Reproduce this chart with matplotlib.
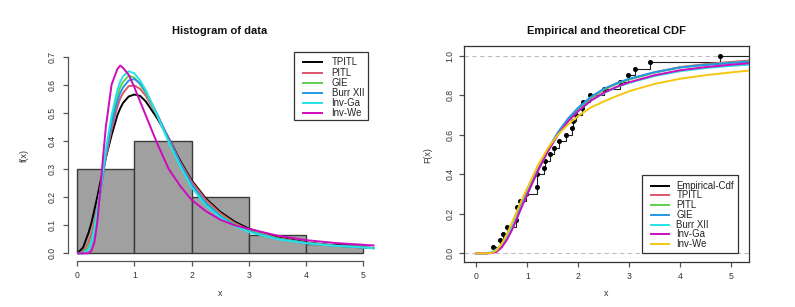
import matplotlib
matplotlib.use('Agg')
import matplotlib.pyplot as plt
import numpy as np
from matplotlib.lines import Line2D
from matplotlib.patches import Rectangle

plt.rcParams['font.family'] = ['Liberation Sans', 'DejaVu Sans']

# ---------------- data ----------------
sample = [0.32, 0.46, 0.52, 0.60, 0.78, 0.80, 0.80, 0.86, 0.98,
          1.19, 1.20, 1.20, 1.32, 1.34, 1.44, 1.52, 1.62, 1.75, 1.87, 1.89, 1.96,
          2.07, 2.10, 2.22, 2.50, 2.82, 2.98, 3.11, 3.40, 4.78]
hist_breaks = [0, 1, 2, 3, 4, 5]

dens_x = [0, 0.1, 0.2, 0.25, 0.3, 0.35, 0.4, 0.45, 0.5, 0.6, 0.7, 0.75, 0.8, 0.9, 1.0, 1.1, 1.2,
          1.4, 1.6, 1.8, 2.0, 2.25, 2.5, 2.75, 3.0, 3.5, 4.0, 4.5, 5.0, 5.2]
dens_tpitl = [0, .02, .075, .11, .155, .20, .25, .295, .34, .42, .49, .515, .535, .558, .565, .56, .54,
              .48, .41, .33, .26, .195, .148, .113, .088, .057, .039, .028, .021, .019]
dens_pitl = [0, .005, .04, .07, .11, .165, .22, .28, .34, .44, .52, .55, .57, .595, .597, .585, .56,
             .49, .41, .325, .255, .19, .143, .108, .084, .054, .037, .027, .02, .018]
dens_gie = [0, .001, .025, .05, .095, .155, .22, .29, .36, .47, .56, .59, .61, .632, .625, .60, .57,
            .49, .40, .315, .245, .18, .136, .104, .081, .053, .037, .027, .021, .018]
dens_burr = [0, 0, .018, .04, .085, .145, .21, .28, .35, .46, .54, .57, .59, .615, .62, .605, .575,
             .495, .405, .32, .245, .178, .133, .10, .078, .051, .036, .027, .021, .018]
dens_invga = [0, 0, .015, .04, .085, .15, .22, .295, .37, .49, .58, .61, .63, .648, .64, .615, .58,
              .49, .395, .31, .235, .17, .128, .097, .076, .05, .036, .027, .021, .018]
dens_invwe = [0, 0, 0, .01, .04, .11, .22, .34, .45, .60, .655, .668, .66, .635, .59, .54, .49,
              .39, .30, .24, .19, .15, .12, .10, .087, .063, .047, .037, .03, .028]
dens_labels = ['TPITL', 'PITL', 'GIE', 'Burr XII', 'Inv-Ga', 'Inv-We']

cdf_x = [0, .2, .3, .4, .5, .6, .7, .8, .9, 1.0, 1.2, 1.4, 1.6, 1.8, 2.0, 2.25, 2.5, 2.75,
         3.0, 3.5, 4.0, 4.5, 5.0, 5.35]
cdf_tpitl = [0, 0, .003, .014, .04, .08, .13, .19, .25, .305, .415, .515, .60, .67, .728, .785,
             .828, .858, .88, .916, .942, .957, .968, .975]
cdf_pitl = [0, 0, .002, .012, .038, .078, .13, .19, .25, .307, .42, .52, .605, .673, .73, .787,
            .828, .857, .879, .914, .94, .954, .965, .971]
cdf_gie = [0, 0, .002, .011, .036, .076, .128, .188, .25, .308, .423, .525, .612, .682, .737, .792,
           .832, .86, .883, .916, .94, .953, .963, .969]
cdf_burr = [0, .001, .006, .02, .045, .082, .13, .187, .245, .30, .412, .515, .60, .668, .72, .772,
            .81, .84, .862, .897, .921, .937, .948, .954]
cdf_invga = [0, 0, .001, .008, .03, .068, .118, .178, .24, .298, .413, .515, .60, .668, .72, .773,
             .812, .842, .865, .901, .926, .942, .954, .961]
cdf_invwe = [0, 0, .002, .016, .05, .097, .155, .215, .275, .33, .44, .53, .60, .652, .695, .738,
             .768, .795, .82, .857, .883, .901, .915, .924]
cdf_labels = ['Empirical-Cdf', 'TPITL', 'PITL', 'GIE', 'Burr XII', 'Inv-Ga', 'Inv-We']

# R 4 default palette
PAL = ['black', '#DF536B', '#61D04F', '#2297E6', '#28E2E5', '#CD0BBC', '#F5C710']

# ---------------- figure ----------------
W, H = 795, 307
fig = plt.figure(figsize=(W / 100, H / 100), dpi=100)


def fx(px):
    return px / W


def fy(py):
    return 1 - py / H


AX_COL = '#555555'
TXT_COL = '#333333'
TICK_FS = 6.2
LW = 1.4

# ---- left: histogram ----
ax1 = fig.add_axes([fx(68.3), fy(261.2), fx(374.5) - fx(68.3), fy(48.7) - fy(261.2)])
ax1.hist(sample, bins=hist_breaks, density=True, color='#A0A0A0', edgecolor='#3a3a3a', linewidth=1.0)
for vals, col in zip([dens_tpitl, dens_pitl, dens_gie, dens_burr, dens_invga, dens_invwe], PAL[:6]):
    ax1.plot(dens_x, vals, color=col, lw=LW, solid_capstyle='butt')
ax1.set_xlim(-0.157, 5.2)
ax1.set_ylim(-0.028, 0.728)
for s in ['top', 'right']:
    ax1.spines[s].set_visible(False)
ax1.spines['left'].set_bounds(0, 0.7)
ax1.spines['bottom'].set_bounds(0, 5)
for s in ['left', 'bottom']:
    ax1.spines[s].set_color(AX_COL)
    ax1.spines[s].set_linewidth(0.9)
ax1.set_xticks(range(0, 6))
ax1.set_yticks(np.arange(0, 0.71, 0.1))
ax1.set_yticklabels(['%.1f' % v for v in np.arange(0, 0.71, 0.1)])
ax1.tick_params(axis='both', length=3.6, width=0.9, color=AX_COL, labelsize=TICK_FS, labelcolor=TXT_COL)
ax1.tick_params(axis='y', labelrotation=90, pad=5.0)
ax1.tick_params(axis='x', pad=3.6)
for t in ax1.get_yticklabels():
    t.set_va('center')
ax1.patch.set_visible(False)

# ---- right: CDF ----
ax2 = fig.add_axes([fx(464.3), fy(261.7), fx(749) - fx(464.3), fy(45.7) - fy(261.7)])
ax2.set_xlim(-0.235, 5.347)
ax2.set_ylim(-0.0425, 1.05)
ax2.axhline(0, color='#BEBEBE', ls=(0, (4, 3)), lw=0.8, zorder=1)
ax2.axhline(1, color='#BEBEBE', ls=(0, (4, 3)), lw=0.8, zorder=1)
ux, cnt = np.unique(np.array(sample), return_counts=True)
F = np.cumsum(cnt) / len(sample)
ax2.step(np.r_[ux, 5.347], np.r_[F, 1.0], where='post', color='#222222', lw=0.8, zorder=2)
ax2.plot(ux, F, 'o', ms=2.6, color='black', zorder=3)
for vals, col in zip([cdf_tpitl, cdf_pitl, cdf_gie, cdf_burr, cdf_invga, cdf_invwe], PAL[1:]):
    ax2.plot(cdf_x, vals, color=col, lw=LW, zorder=4)
for s in ax2.spines.values():
    s.set_color('#333333')
    s.set_linewidth(0.9)
ax2.set_xticks(range(0, 6))
ax2.set_yticks(np.arange(0, 1.01, 0.2))
ax2.set_yticklabels(['%.1f' % v for v in np.arange(0, 1.01, 0.2)])
ax2.tick_params(axis='both', length=3.6, width=0.9, color=AX_COL, labelsize=TICK_FS, labelcolor=TXT_COL)
ax2.tick_params(axis='y', labelrotation=90, pad=3.2)
ax2.tick_params(axis='x', pad=3.6)
for t in ax2.get_yticklabels():
    t.set_va('center')

# ---- titles and labels ----
fig.text(fx(220), fy(31), 'Histogram of data', ha='center', va='center', fontsize=8.0,
         fontweight='bold', color='#111111')
fig.text(fx(606), fy(31), 'Empirical and theoretical CDF', ha='center', va='center', fontsize=8.0,
         fontweight='bold', color='#111111')
fig.text(fx(220), fy(293), 'x', ha='center', va='center', fontsize=6.4, color=TXT_COL)
fig.text(fx(606), fy(293), 'x', ha='center', va='center', fontsize=6.4, color=TXT_COL)
fig.text(fx(24), fy(155), 'f(x)', ha='center', va='center', rotation=90, fontsize=6.4, color=TXT_COL)
fig.text(fx(428), fy(155), 'F(x)', ha='center', va='center', rotation=90, fontsize=6.4, color=TXT_COL)


# ---- legends (drawn in figure pixel space) ----
def draw_legend(box, row0, dy, xl0, xl1, xt, labels, colors, fs=6.9):
    x0, y0, x1, y1 = box
    fig.add_artist(Rectangle((fx(x0), fy(y1)), fx(x1) - fx(x0), fy(y0) - fy(y1),
                             transform=fig.transFigure, facecolor='white',
                             edgecolor='#333333', lw=0.9, zorder=5))
    for i, (lab, col) in enumerate(zip(labels, colors)):
        yy = row0 + i * dy
        fig.add_artist(Line2D([fx(xl0), fx(xl1)], [fy(yy), fy(yy)], transform=fig.transFigure,
                              color=col, lw=LW, zorder=6))
        fig.text(fx(xt), fy(yy), lab, ha='left', va='center', fontsize=fs, color='#222222', zorder=6)


draw_legend((294, 52.3, 368.3, 120), 62.3, 10.2, 303, 322, 331.5, dens_labels, PAL[:6])
draw_legend((642.3, 175, 737.7, 253.3), 185.7, 9.72, 650.7, 669.3, 676.5, cdf_labels, PAL[:7])

fig.savefig('out.png', dpi=100)
